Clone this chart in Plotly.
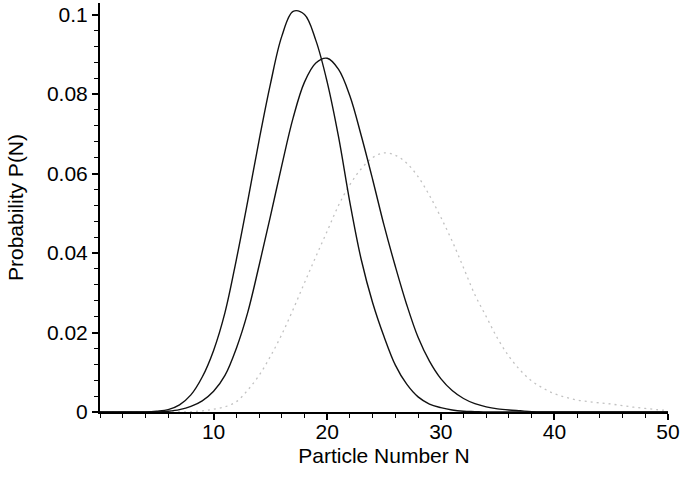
import plotly.graph_objects as go

# Particle number N
n_values = list(range(0, 51))

# Probability P(N) for the three distributions (0..50)
p_narrow = [0, 0, 0, 0, 0, 0.0002, 0.0006, 0.0018, 0.0043, 0.0088,
            0.0155, 0.0250, 0.0383, 0.0530, 0.0683, 0.0825, 0.0945, 0.1008, 0.1000, 0.0935,
            0.0830, 0.0692, 0.0527, 0.0383, 0.0275, 0.0190, 0.0118, 0.0070, 0.0038, 0.0020,
            0.0011, 0.0005, 0.0002, 0.0001, 0, 0, 0, 0, 0, 0,
            0, 0, 0, 0, 0, 0, 0, 0, 0, 0, 0]

p_middle = [0, 0, 0, 0, 0, 0, 0.0002, 0.0006, 0.0014, 0.0028,
            0.0052, 0.0092, 0.0160, 0.0250, 0.0368, 0.0492, 0.0620, 0.0740, 0.0830, 0.0878,
            0.0890, 0.0862, 0.0795, 0.0695, 0.0585, 0.0470, 0.0366, 0.0270, 0.0188, 0.0128,
            0.0084, 0.0054, 0.0034, 0.0021, 0.0013, 0.0008, 0.0005, 0.0003, 0.0001, 0,
            0, 0, 0, 0, 0, 0, 0, 0, 0, 0, 0]

p_wide = [0, 0, 0, 0, 0, 0, 0, 0, 0.0001, 0.0003,
          0.0007, 0.0013, 0.0026, 0.0055, 0.0092, 0.0140, 0.0195, 0.0258, 0.0325, 0.0391,
          0.0455, 0.0520, 0.0572, 0.0612, 0.0640, 0.0652, 0.0646, 0.0626, 0.0592, 0.0545,
          0.0490, 0.0430, 0.0363, 0.0295, 0.0240, 0.0185, 0.0140, 0.0105, 0.0078, 0.0060,
          0.0046, 0.0037, 0.0030, 0.0026, 0.0023, 0.0020, 0.0016, 0.0012, 0.0009, 0.0006,
          0.0004]

x_ticks = [10, 20, 30, 40, 50]
y_ticks = [0, 0.02, 0.04, 0.06, 0.08, 0.1]
y_tick_text = ["0", "0.02", "0.04", "0.06", "0.08", "0.1"]

FONT = "Liberation Sans, Arial, sans-serif"

fig = go.Figure()
fig.add_trace(go.Scatter(x=n_values, y=p_wide, mode="lines",
                         line=dict(color="#c2c2c2", width=1.3, dash="2px,4px", shape="spline")))
fig.add_trace(go.Scatter(x=n_values, y=p_middle, mode="lines",
                         line=dict(color="#111111", width=1.4, shape="spline")))
fig.add_trace(go.Scatter(x=n_values, y=p_narrow, mode="lines",
                         line=dict(color="#111111", width=1.4, shape="spline")))

fig.update_layout(
    width=683, height=481,
    margin=dict(l=100, r=10, t=3, b=69),
    paper_bgcolor="white", plot_bgcolor="white",
    showlegend=False,
    font=dict(family=FONT, size=22, color="black"),
    xaxis=dict(
        range=[0, 50], tickvals=x_ticks, showgrid=False, zeroline=False,
        showline=True, linecolor="black", linewidth=2,
        ticks="outside", ticklen=6, tickwidth=1.5, tickcolor="black",
        minor=dict(dtick=2, ticks="outside", ticklen=4, tickcolor="black", tickwidth=1),
        tickfont=dict(size=21), ticklabelstandoff=-6, ticklabeloverflow="allow",
        title=dict(text="Particle Number N", font=dict(size=21), standoff=6),
    ),
    yaxis=dict(
        range=[0, 0.1029], tickvals=y_ticks, ticktext=y_tick_text,
        showgrid=False, zeroline=False,
        showline=True, linecolor="black", linewidth=2,
        ticks="outside", ticklen=6, tickwidth=1.5, tickcolor="black",
        minor=dict(dtick=0.004, ticks="outside", ticklen=4, tickcolor="black", tickwidth=1),
        tickfont=dict(size=21),
        title=dict(text="Probability P(N)", font=dict(size=21), standoff=18),
    ),
)

fig.write_html("out.html")
